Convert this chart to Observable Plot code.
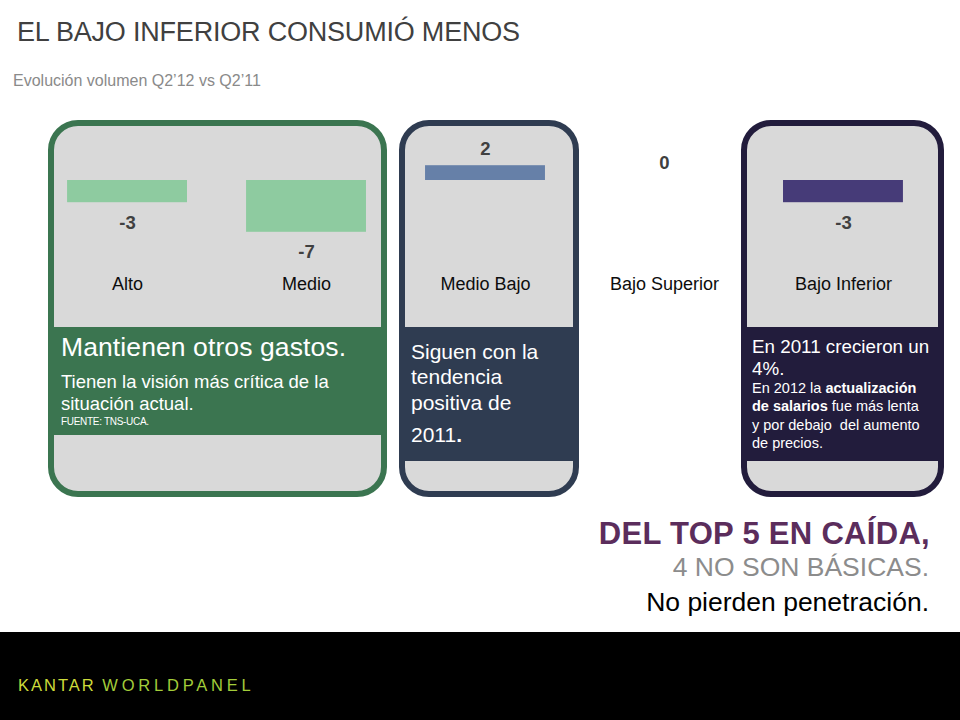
<!DOCTYPE html>
<html><head><meta charset="utf-8">
<script src="https://cdn.jsdelivr.net/npm/d3@7"></script>
<script src="https://cdn.jsdelivr.net/npm/@observablehq/plot@0.6"></script>
<style>
html,body{margin:0;padding:0;background:#fff;}
#page{position:relative;width:960px;height:720px;overflow:hidden;font-family:"Liberation Sans",Arial,sans-serif;background:#fff;}
.t{position:absolute;white-space:nowrap;}
.panel{position:absolute;box-sizing:border-box;border:6px solid;border-radius:30px;background:#d9d9d9;overflow:hidden;}
.band{position:absolute;left:0;right:0;}
</style></head><body><div id="page"></div>
<script>
// ---- data ----
const categories = ["Alto", "Medio", "Medio Bajo", "Bajo Superior", "Bajo Inferior"];
const values = [-3, -7, 2, 0, -3];
// ---- styling ----
const barPalette = ["#8ecba0", "#8ecba0", "#6680a8", "#bbbbbb", "#463b78"];

const page = document.getElementById("page");

function el(tag, cls, styles, html) {
  const d = document.createElement(tag);
  if (cls) d.className = cls;
  Object.assign(d.style, styles || {});
  if (html != null) d.innerHTML = html;
  return d;
}
function addText(o) {
  const L = o.lh || o.size * 1.2;
  const s = {
    top: (o.baseline - L / 2 - 0.3465 * o.size) + "px",
    fontSize: o.size + "px",
    lineHeight: L + "px",
    color: o.color || "#000",
    fontWeight: o.weight || "normal",
    letterSpacing: (o.ls || 0) + "px",
    fontFamily: o.font || '"Liberation Sans", Arial, sans-serif'
  };
  if (o.right != null) { s.right = (960 - o.right) + "px"; s.textAlign = "right"; }
  else s.left = o.x + "px";
  const d = el("div", "t", s, o.html);
  page.appendChild(d);
  return d;
}

// ---- panels (decoration) ----
function panel(left, width, color, bandH) {
  const p = el("div", "panel", {left: left + "px", top: "120px", width: width + "px", height: "377px", borderColor: color});
  p.appendChild(el("div", "band", {top: "201px", height: bandH + "px", background: color}));
  page.appendChild(p);
}
panel(48, 339, "#3b7550", 108);
panel(399, 180, "#2f3c51", 134);
panel(741, 203, "#221c3c", 134);

// ---- footer ----
page.appendChild(el("div", null, {position: "absolute", left: 0, top: "632px", width: "960px", height: "88px", background: "#000"}));

// ---- chart ----
const rows = categories.map((c, i) => ({cat: c, value: values[i]}));
const chart = Plot.plot({
  width: 960,
  height: 200,
  marginTop: 0, marginBottom: 40, marginLeft: 0, marginRight: 0,
  style: {background: "transparent", fontFamily: '"Liberation Sans", Arial, sans-serif', fontSize: "18px", overflow: "visible", color: "#111"},
  x: {domain: categories, range: [8, 962], padding: 0.33, round: false},
  y: {domain: [-10, 10], range: [144, -4], axis: null},
  color: {domain: categories, range: barPalette},
  marks: [
    Plot.barY(rows, {x: "cat", y: "value", fill: "cat"}),
    Plot.text(rows.filter(d => d.value < 0), {x: "cat", y: "value", text: d => String(d.value), dy: 20, fontSize: 18.5, fontWeight: "bold", fill: "#404040"}),
    Plot.text(rows.filter(d => d.value >= 0), {x: "cat", y: "value", text: d => String(d.value), dy: -17, fontSize: 18.5, fontWeight: "bold", fill: "#404040"}),
    Plot.axisX({anchor: "bottom", tickSize: 0, tickPadding: 7, fontSize: 18, color: "#0d0d0d", label: null})
  ]
});
chart.style.position = "absolute";
chart.style.left = "0px";
chart.style.top = "110px";
page.appendChild(chart);

// ---- titles ----
addText({x: 17, baseline: 42, size: 27, color: "#404040", ls: -0.2, html: "EL BAJO INFERIOR CONSUMIÓ MENOS"});
addText({x: 13, baseline: 86, size: 16, color: "#8a8a8a", html: "Evolución volumen Q2’12 vs Q2’11"});

// ---- green band text ----
addText({x: 61, baseline: 357, size: 26.5, color: "#fff", ls: 0.1, html: "Mantienen otros gastos."});
addText({x: 61, baseline: 388, size: 18.5, lh: 22, color: "#fff", html: "Tienen la visión más crítica de la<br>situación actual."});
addText({x: 61, baseline: 425, size: 10, color: "#fff", ls: -0.3, html: "FUENTE: TNS-UCA."});

// ---- navy band text ----
addText({x: 411, baseline: 359, size: 21, lh: 25.5, color: "#fff", html: "Siguen con la<br>tendencia<br>positiva de"});
addText({x: 411, baseline: 442, size: 21, color: "#fff", html: "2011<b>.</b>"});

// ---- purple band text ----
addText({x: 752, baseline: 354, size: 18.8, lh: 22, color: "#fff", html: "En 2011 crecieron un<br>4%."});
addText({x: 752, baseline: 393, size: 14.5, lh: 18.5, color: "#fff", html: "En 2012 la <b>actualización</b><br><b>de salarios</b> fue más lenta<br>y por debajo&nbsp; del aumento<br>de precios."});

// ---- bottom right ----
addText({right: 930, baseline: 544, size: 31, weight: "bold", color: "#5b2d5c", ls: 0.3, html: "DEL TOP 5 EN CAÍDA,"});
addText({right: 929, baseline: 577, size: 26.5, color: "#8c8c8c", html: "4 NO SON BÁSICAS."});
addText({right: 929, baseline: 612, size: 26.5, color: "#000", html: "No pierden penetración."});

// ---- logo ----
addText({x: 18, baseline: 692, size: 16.5, color: "#cddc3a", ls: 2, html: "KANTAR <span style=\"color:#a3cd3a;letter-spacing:3.8px\">WORLDPANEL</span>"});
</script>
</body></html>
